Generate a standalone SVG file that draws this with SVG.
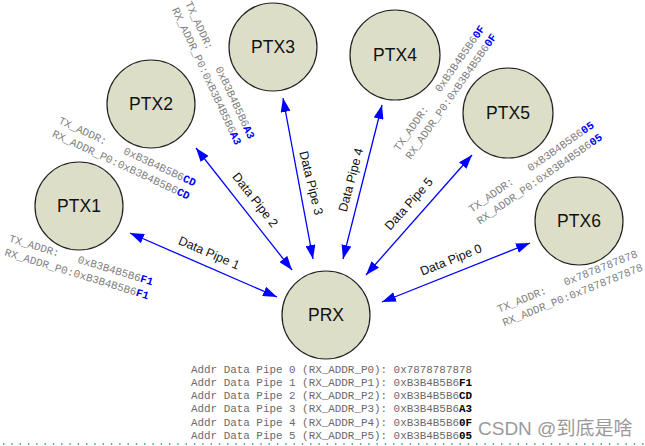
<svg xmlns="http://www.w3.org/2000/svg" width="645" height="446" viewBox="0 0 645 446">
<style>
.node circle{fill:#dddec8;stroke:#222;stroke-width:1.2}
.nl{font-family:"Liberation Sans",Arial,sans-serif;font-size:17.5px;fill:#111;text-anchor:middle}
.addr{font-family:"Liberation Mono","Courier New",monospace;font-size:10.9px;fill:#808080}
.hx{fill:#0000ff;font-weight:bold}
.conn line{stroke:#0000ff;stroke-width:1.3;marker-start:url(#ah);marker-end:url(#ah)}
.pl{font-family:"Liberation Sans",Arial,sans-serif;font-size:12.5px;fill:#111;text-anchor:middle}
.tbl{font-family:"Liberation Mono","Courier New",monospace;font-size:10.9px;fill:#6a6a6a}
.tb{fill:#000;font-weight:bold}
</style>
<defs>
<marker id="ah" viewBox="0 0 14 10" refX="14" refY="5" markerWidth="14" markerHeight="10" markerUnits="userSpaceOnUse" orient="auto-start-reverse">
<path d="M0,0 L14,5 L0,10 z" fill="#0000ff"/>
</marker>
</defs>
<rect width="645" height="446" fill="#fff"/>

<g id="connectors" class="conn">
<line x1="130" y1="233" x2="277" y2="297"/>
<line x1="196" y1="148" x2="292" y2="270"/>
<line x1="283" y1="98" x2="313" y2="259"/>
<line x1="382" y1="105" x2="343" y2="259"/>
<line x1="472" y1="155" x2="366" y2="275"/>
<line x1="530" y1="243" x2="382" y2="302"/>
<text class="pl" transform="translate(209,253) rotate(23.5)" y="4">Data Pipe 1</text>
<text class="pl" transform="translate(255,200) rotate(51.8)" y="4">Data Pipe 2</text>
<text class="pl" transform="translate(311,183) rotate(76)" y="4">Data Pipe 3</text>
<text class="pl" transform="translate(351,180) rotate(-75)" y="4">Data Pipe 4</text>
<text class="pl" transform="translate(409,204) rotate(-48.5)" y="4">Data Pipe 5</text>
<text class="pl" transform="translate(451,260) rotate(-21.7)" y="4">Data Pipe 0</text>
</g>

<g id="ptx1" class="node">
<circle cx="79" cy="206" r="44"/>
<text class="nl" x="79" y="212">PTX1</text>
<g class="addr" transform="translate(5,252) rotate(17)">
<text y="-11" xml:space="preserve">TX_ADDR:   0xB3B4B5B6<tspan class="hx">F1</tspan></text>
<text y="3.5">RX_ADDR_P0:0xB3B4B5B6<tspan class="hx">F1</tspan></text>
</g>
</g>

<g id="ptx2" class="node">
<circle cx="151" cy="104" r="44"/>
<text class="nl" x="151" y="110">PTX2</text>
<g class="addr" transform="translate(53,133) rotate(25)">
<text y="-11" xml:space="preserve">TX_ADDR:   0xB3B4B5B6<tspan class="hx">CD</tspan></text>
<text y="3.5">RX_ADDR_P0:0xB3B4B5B6<tspan class="hx">CD</tspan></text>
</g>
</g>

<g id="ptx3" class="node">
<circle cx="273" cy="47" r="44"/>
<text class="nl" x="273" y="53">PTX3</text>
<g class="addr" transform="translate(175,8) rotate(65)">
<text y="-11" xml:space="preserve">TX_ADDR:   0xB3B4B5B6<tspan class="hx">A3</tspan></text>
<text y="3.5">RX_ADDR_P0:0xB3B4B5B6<tspan class="hx">A3</tspan></text>
</g>
</g>

<g id="ptx4" class="node">
<circle cx="395" cy="55" r="45"/>
<text class="nl" x="395" y="61">PTX4</text>
<g class="addr" transform="translate(408,158) rotate(-55)">
<text y="-11" xml:space="preserve">TX_ADDR:   0xB3B4B5B6<tspan class="hx">0F</tspan></text>
<text y="3.5">RX_ADDR_P0:0xB3B4B5B6<tspan class="hx">0F</tspan></text>
</g>
</g>

<g id="ptx5" class="node">
<circle cx="508" cy="113" r="45"/>
<text class="nl" x="508" y="119">PTX5</text>
<g class="addr" transform="translate(478,222) rotate(-35)">
<text y="-11" xml:space="preserve">TX_ADDR:   0xB3B4B5B6<tspan class="hx">05</tspan></text>
<text y="3.5">RX_ADDR_P0:0xB3B4B5B6<tspan class="hx">05</tspan></text>
</g>
</g>

<g id="ptx6" class="node">
<circle cx="579" cy="221" r="44"/>
<text class="nl" x="579" y="227">PTX6</text>
<g class="addr" transform="translate(503,323) rotate(-22)">
<text y="-11" xml:space="preserve">TX_ADDR:   0x7878787878</text>
<text y="3.5">RX_ADDR_P0:0x7878787878</text>
</g>
</g>

<g id="prx" class="node">
<circle cx="326" cy="315" r="44"/>
<text class="nl" x="326" y="321">PRX</text>
</g>

<g id="table" class="tbl">
<text x="191" y="372.5">Addr Data Pipe 0 (RX_ADDR_P0): 0x7878787878</text>
<text x="191" y="385.8">Addr Data Pipe 1 (RX_ADDR_P1): 0xB3B4B5B6<tspan class="tb">F1</tspan></text>
<text x="191" y="399.1">Addr Data Pipe 2 (RX_ADDR_P2): 0xB3B4B5B6<tspan class="tb">CD</tspan></text>
<text x="191" y="412.4">Addr Data Pipe 3 (RX_ADDR_P3): 0xB3B4B5B6<tspan class="tb">A3</tspan></text>
<text x="191" y="425.7">Addr Data Pipe 4 (RX_ADDR_P4): 0xB3B4B5B6<tspan class="tb">0F</tspan></text>
<text x="191" y="439">Addr Data Pipe 5 (RX_ADDR_P5): 0xB3B4B5B6<tspan class="tb">05</tspan></text>
</g>

<text x="478" y="435" font-family="'Liberation Sans','Noto Sans CJK SC',sans-serif" font-size="19" fill="#9a9a9a">CSDN @到底是啥</text>
<line x1="3" y1="444" x2="645" y2="444" stroke="#1a9a8a" stroke-width="1.4" stroke-dasharray="1.4 6.9"/>
</svg>
